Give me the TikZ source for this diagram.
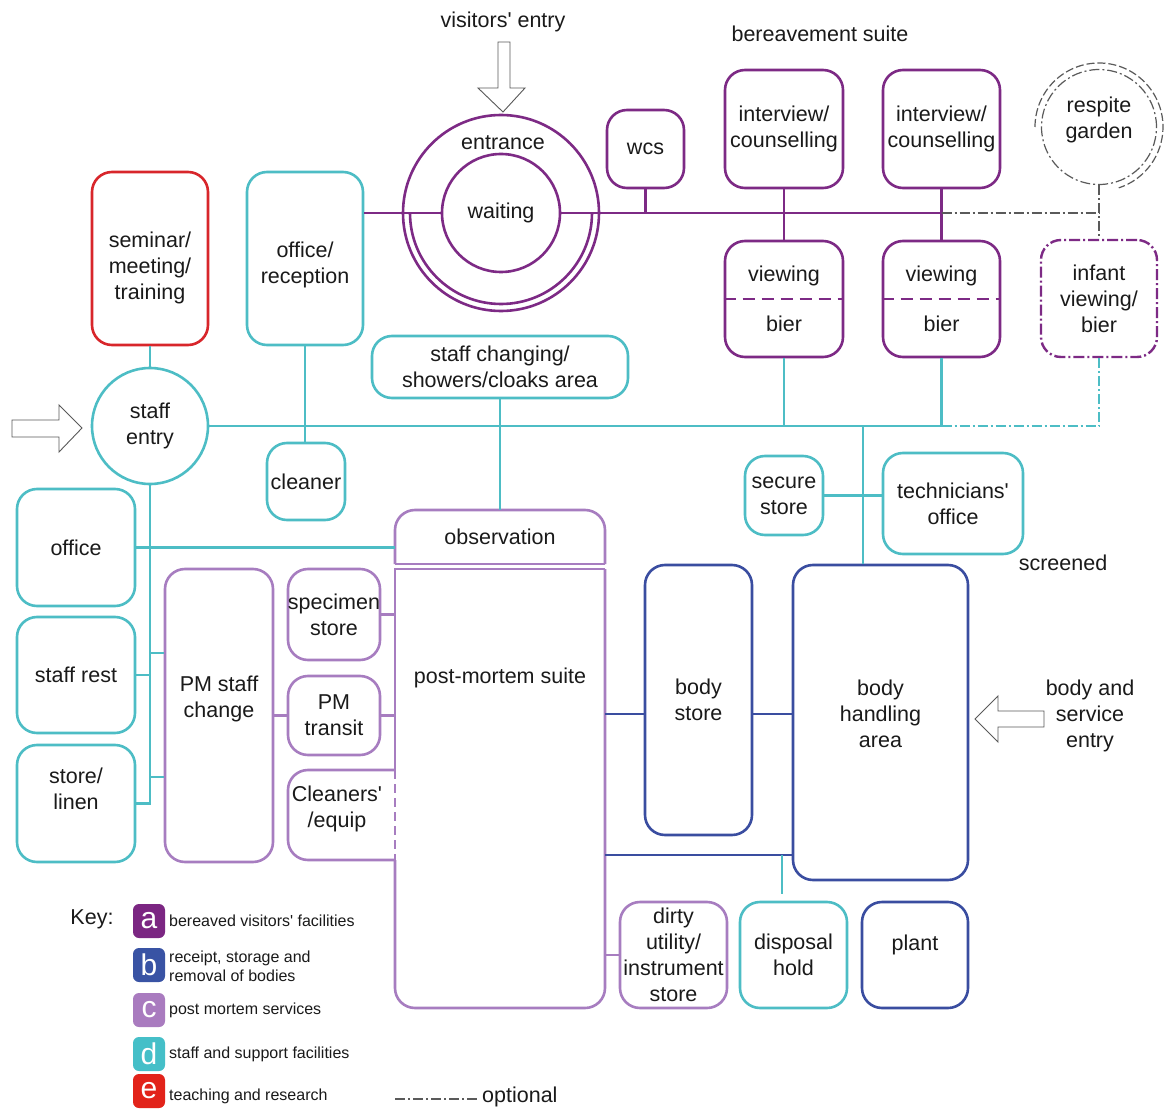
\documentclass[tikz,border=0pt]{standalone}
\usepackage{fontspec}
\setmainfont{Liberation Sans}
\usetikzlibrary{calc}
\definecolor{apurple}{HTML}{7D2A85}
\definecolor{bblue}{HTML}{3A4DA0}
\definecolor{clav}{HTML}{A77DC0}
\definecolor{dteal}{HTML}{4DBDC5}
\definecolor{ered}{HTML}{D8262B}
\definecolor{optgray}{HTML}{5A5A5A}
\definecolor{ink}{HTML}{1A1A1A}
\definecolor{keya}{HTML}{7B2682}
\definecolor{keyb}{HTML}{3953A4}
\definecolor{keyc}{HTML}{A97BBF}
\definecolor{keyd}{HTML}{45BFC8}
\definecolor{keye}{HTML}{E2231A}
\newcommand\lblfont{\fontsize{21.5}{26}\selectfont}
\newcommand\keyfont{\fontsize{16}{19}\selectfont}
\newcommand\sq{\textquotesingle}

\begin{document}
\begin{tikzpicture}[x=1pt,y=-1pt,
  txt/.style={align=center, font=\lblfont, text=ink, inner sep=0pt},
  keytxt/.style={align=left, font=\keyfont, text=ink, inner sep=0pt, anchor=west},
  sz/.style 2 args={minimum width=#1pt, minimum height=#2pt},
  room/.style={txt, draw, rounded corners=20pt, line width=2.6pt},
  ring/.style={circle, draw, line width=2.6pt, inner sep=0pt, align=center, font=\lblfont, text=ink},
  link/.style={line width=2.4pt},
  optdash/.style={dash pattern=on 10pt off 3pt on 2pt off 3pt},
  hollow/.style={draw=black!65, line width=0.9pt, fill=white, line join=miter},
  badge/.style={rounded corners=6pt, minimum width=32pt, minimum height=34pt, inner sep=0pt, text=white, font=\fontsize{30}{30}\selectfont}
]
\useasboundingbox (0,0) rectangle (1165,1110);
\fill[white] (0,0) rectangle (1165,1110);

% ---------- headings ----------
\node[txt] (visT) at (503,22) {visitors\sq\ entry};
\node[txt] (bsT) at (820,34) {bereavement suite};
\node[txt] (scrT) at (1063,563) {screened};
\node[txt] (besT) at (1090,716) {body and\\service\\entry};

% ---------- entrance and waiting ----------
\node[ring, draw=apurple, minimum size=196pt] (ent) at (501,213) {};
\draw[apurple, line width=2.6pt] ($(ent.center)+(-91pt,0pt)$) arc[start angle=180, end angle=360, radius=91pt];
\node[ring, draw=apurple, minimum size=118pt] (wait) at (501,213) {waiting};
\node[txt] (entT) at (503,143) {entrance};

% ---------- bereavement suite ----------
\node[room, draw=apurple, sz={77}{78}] (wcs) at (645.5,149) {wcs};
\node[room, draw=apurple, sz={118}{118}] (int1) at (784,129) {interview/\\counselling};
\node[room, draw=apurple, sz={117}{118}] (int2) at (941.5,129) {interview/\\counselling};
\node[room, draw=apurple, sz={118}{116}] (view1) at (784,299) {viewing\\[24pt]bier};
\node[room, draw=apurple, sz={117}{116}] (view2) at (941.5,299) {viewing\\[24pt]bier};
\draw[apurple, line width=1.8pt, dash pattern=on 12pt off 7pt] (view1.west) -- (view1.east);
\draw[apurple, line width=1.8pt, dash pattern=on 12pt off 7pt] (view2.west) -- (view2.east);
\node[room, draw=apurple, line width=2.4pt, dash pattern=on 11pt off 3pt on 2pt off 3pt, sz={116}{117}] (infant) at (1099,298.5) {infant\\viewing/\\bier};

% respite garden
\node[circle, draw=optgray, line width=1.2pt, optdash, minimum size=115pt, inner sep=0pt] (garden) at (1099,127) {};
\draw[optgray, line width=1.2pt, dash pattern=on 8pt off 3pt] ($(garden.center)+(-64pt,0pt)$) arc[start angle=180, end angle=-72, radius=64pt];
\node[txt] (gardenT) at (1099,119.5) {respite\\garden};

% ---------- teaching, reception, staff entry ----------
\node[room, draw=ered, sz={116}{173}] (sem) at (150,258.5) {};
\node[txt] (semT) at (150,268) {seminar/\\meeting/\\training};
\node[room, draw=dteal, sz={116}{173}] (offrec) at (305,258.5) {};
\node[txt] (offrecT) at (305,265) {office/\\reception};
\node[ring, draw=dteal, minimum size=116pt] (se) at (150,426) {staff\\entry};
\node[room, draw=dteal, sz={78}{77}] (cleaner) at (306,481.5) {cleaner};
\node[room, draw=dteal, sz={256}{62}] (chg) at (500,367) {staff changing/\\showers/cloaks area};
\node[room, draw=dteal, sz={78}{79}] (secure) at (784,495.5) {secure\\store};
\node[room, draw=dteal, sz={140}{101}] (tech) at (953,503.5) {technicians\sq\\office};

% ---------- staff column ----------
\node[room, draw=dteal, sz={118}{117}] (office) at (76,547.5) {office};
\node[room, draw=dteal, sz={118}{116}] (rest) at (76,675) {staff rest};
\node[room, draw=dteal, sz={118}{117}] (linen) at (76,803.5) {};
\node[txt] (linenT) at (76,789) {store/\\linen};

% ---------- post-mortem services ----------
\node[room, draw=clav, sz={108}{293}] (pmchg) at (219,715.5) {};
\node[txt] (pmchgT) at (219,699) {PM staff\\change};
\node[room, draw=clav, sz={92}{91}] (spec) at (334,614.5) {specimen\\store};
\node[room, draw=clav, sz={92}{79}] (transit) at (334,715.5) {PM\\transit};
\node[txt] (clnT) at (337,809) {Cleaners\sq\\/equip};

\node[txt, sz={210}{54}] (obs) at (500,537) {observation};
\node[inner sep=0pt, sz={210}{439}] (pm) at (500,788.5) {};
\node[txt] (pmT) at (500,678) {post-mortem suite};
\draw[clav, line width=2.6pt, rounded corners=20pt] (395,564) -- (395,510) -- (605,510) -- (605,564);
\draw[clav, line width=2.6pt] (395,564) -- (605,564);
\draw[clav, line width=2.6pt, rounded corners=20pt] (395,860) -- (395,1008) -- (605,1008) -- (605,569);
\draw[clav, line width=2.6pt] (605,569) -- (395,569) -- (395,770);
\draw[clav, line width=2.6pt, dash pattern=on 9pt off 5pt] (395,770) -- (395,860);
\draw[clav, line width=2.6pt, rounded corners=20pt] (395,770) -- (288,770) -- (288,860) -- (395,860);
\node[room, draw=clav, sz={107}{106}] (dirty) at (673.5,955) {dirty\\utility/\\instrument\\store};

% ---------- body handling ----------
\node[room, draw=bblue, sz={107}{270}] (bstore) at (698.5,700) {body\\store};
\node[room, draw=bblue, sz={175}{315}] (handling) at (880.5,722.5) {};
\node[txt] (handT) at (880.5,714) {body\\handling\\area};
\node[room, draw=dteal, sz={107}{106}] (disp) at (793.5,955) {disposal\\hold};
\node[room, draw=bblue, sz={106}{106}] (plant) at (915,955) {};
\node[txt] (plantT) at (915,945) {plant};

% ---------- entry arrows ----------
\draw[hollow] (498,42) -- (510,42) -- (510,88) -- (525,88) -- (503,112) -- (478,88) -- (498,88) -- cycle;
\draw[hollow] (12,420) -- (59,420) -- (59,405) -- (82,428) -- (59,452) -- (59,437) -- (12,437) -- cycle;
\draw[hollow] (1044,711) -- (998,711) -- (998,696) -- (975,719) -- (998,742) -- (998,727) -- (1044,727) -- cycle;

% ---------- visitor corridor ----------
\coordinate (busL) at (offrec.east |- ent.center);
\coordinate (busI2) at (int2.south |- ent.center);
\coordinate (busG) at (garden.south |- ent.center);
\draw[link, apurple] (busL) -- (wait.west);
\draw[link, apurple] (wait.east) -- (busI2);
\draw[link, apurple] (wcs.south) -- (wcs.south |- ent.center);
\draw[link, apurple] (int1.south) -- (view1.north);
\draw[link, apurple] (int2.south) -- (view2.north);
\draw[optgray, line width=1.3pt, optdash] (busI2) -- (busG);
\draw[optgray, line width=1.3pt, optdash] (garden.south) -- (infant.north);

% ---------- staff corridor ----------
\coordinate (tbusE) at (view2.south |- se.east);
\coordinate (tbusI) at (infant.south |- se.east);
\coordinate (tdrop) at (863,426);
\coordinate (chgA) at (150,653);
\coordinate (chgB) at (150,777);
\draw[link, dteal] (sem.south) -- (se.north);
\draw[link, dteal] (se.east) -- (tbusE);
\draw[link, dteal] (view1.south) -- (view1.south |- se.east);
\draw[link, dteal] (view2.south) -- (tbusE);
\draw[dteal, line width=2.4pt, optdash] (tbusE) -- (tbusI) -- (infant.south);
\draw[link, dteal] (offrec.south) -- (offrec.south |- cleaner.north);
\draw[link, dteal] (chg.south) -- (obs.north);
\draw[link, dteal] (tdrop) -- (tdrop |- handling.north);
\draw[link, dteal] (secure.east) -- (secure.east -| tech.west);
\draw[link, dteal] (se.south) -- (se.south |- linen.east) -- (linen.east);
\draw[link, dteal] (office.east) -- (office.east -| obs.west);
\draw[link, dteal] (rest.east) -- (rest.east -| se.south);
\draw[link, dteal] (chgA) -- (chgA -| pmchg.west);
\draw[link, dteal] (chgB) -- (chgB -| pmchg.west);

% ---------- post-mortem links ----------
\draw[link, clav] (spec.east) -- (spec.east -| pm.west);
\draw[link, clav] (pmchg.east |- transit.west) -- (transit.west);
\draw[link, clav] (transit.east) -- (transit.east -| pm.west);
\draw[link, clav] (pm.east |- dirty.west) -- (dirty.west);

% ---------- body route ----------
\coordinate (bA) at (605,714);
\coordinate (bB) at (605,855);
\coordinate (dj) at (782,855);
\draw[link, bblue] (bA) -- (bA -| bstore.west);
\draw[link, bblue] (bA -| bstore.east) -- (bA -| handling.west);
\draw[link, bblue] (bB) -- (bB -| handling.west);
\draw[dteal, line width=1.8pt, shorten >=7pt] (dj) -- (dj |- disp.north);

% ---------- key ----------
\node[txt] (keyT) at (92,919) {Key:};
\node[badge, fill=keya] (ka) at (149,921) {a};
\node[keytxt] (kaT) at (169,921) {bereaved visitors\sq\ facilities};
\node[badge, fill=keyb] (kb) at (149,965) {b};
\node[keytxt] (kbT) at (169,966.5) {receipt, storage and\\removal of bodies};
\node[badge, fill=keyc] (kc) at (149,1010) {c};
\node[keytxt] (kcT) at (169,1010) {post mortem services};
\node[badge, fill=keyd] (kd) at (149,1054) {d};
\node[keytxt] (kdT) at (169,1054) {staff and support facilities};
\node[badge, fill=keye] (ke) at (149,1091) {e};
\node[keytxt] (keT) at (169,1096) {teaching and research};
\coordinate (optA) at (395,1099);
\coordinate (optB) at (478,1099);
\draw[optgray, line width=1.2pt, optdash] (optA) -- (optB);
\node[txt, anchor=west] (optT) at (482,1097) {optional};
\end{tikzpicture}
\end{document}
